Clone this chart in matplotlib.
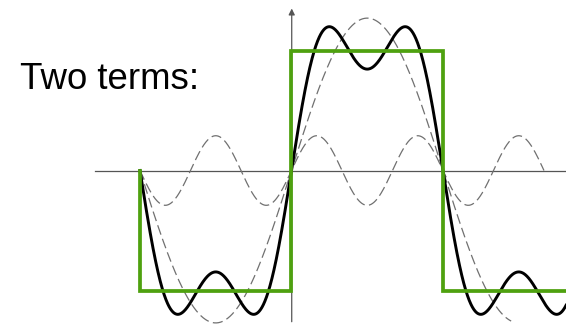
import numpy as np
import matplotlib
matplotlib.use("Agg")
import matplotlib.pyplot as plt

PI = np.pi
# Fourier components (harmonic number, amplitude)
harmonics = [1, 3]
sum_amplitudes = [1.27, 0.425]        # black two-term sum
component_amplitudes = [1.27, 0.29]   # dashed individual terms (as drawn)
component_ranges = [(-1.0, 1.45), (-1.0, 5.0 / 3.0)]  # in units of pi
sum_range = (-1.0, 1.82)

# square wave breakpoints (x in units of pi)
square_x = [-1.0, -1.0, 0.0, 0.0, 1.0, 1.0, 1.82]
square_y = [0.0, -1.0, -1.0, 1.0, 1.0, -1.0, -1.0]

title_text = "Two terms:"

fig = plt.figure(figsize=(5.66, 3.27), dpi=100)
ax = fig.add_axes([0, 0, 1, 1])
ax.set_xlim(-1.924 * PI, 1.812 * PI)
ax.set_ylim(-1.304, 1.421)
ax.axis("off")

# axes
ax.plot([-1.30 * PI, 1.82 * PI], [0, 0], color="#555555", lw=0.9, zorder=1)
ax.annotate("", xy=(0.005, 1.35), xytext=(0.005, -1.26),
            arrowprops=dict(arrowstyle="-|>", color="#555555", lw=0.9,
                            mutation_scale=9, shrinkA=0, shrinkB=0), zorder=1)

# dashed components
for h, a, (t0, t1) in zip(harmonics, component_amplitudes, component_ranges):
    x = np.linspace(t0 * PI, t1 * PI, 800)
    ax.plot(x, a * np.sin(h * x), color="#707070", lw=0.9,
            linestyle=(0, (8, 3.5)), zorder=2)

# two-term sum
x = np.linspace(sum_range[0] * PI, sum_range[1] * PI, 1500)
y = sum(a * np.sin(h * x) for h, a in zip(harmonics, sum_amplitudes))
ax.plot(x, y, color="black", lw=2.1, zorder=3)

# square wave
ax.plot(np.array(square_x) * PI, square_y, color="#4ea10f", lw=2.7,
        solid_joinstyle="miter", zorder=4)

fig.text(20 / 566, 1 - 80 / 327, title_text, fontsize=26.4,
         family="Liberation Sans", va="center", ha="left")

fig.savefig("out.png", dpi=100)
